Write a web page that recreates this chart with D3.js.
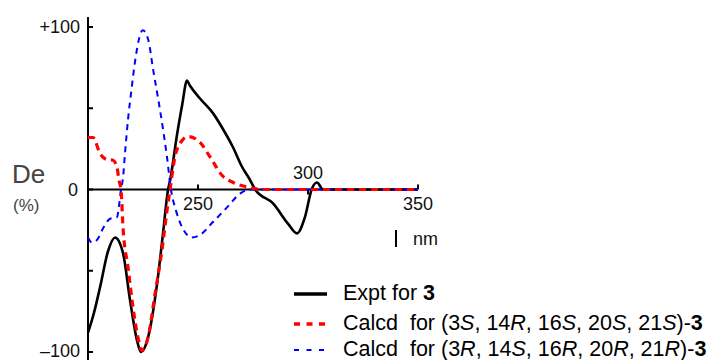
<!DOCTYPE html>
<html>
<head>
<meta charset="utf-8">
<script src="https://cdn.jsdelivr.net/npm/d3@7"></script>
<style>
  body { margin: 0; background: #fff; }
  svg { display: block; font-family: "Liberation Sans", Arial, sans-serif; }
</style>
</head>
<body>
<svg id="chart"></svg>
<script>
// ECD curves, wavelength (nm) vs delta epsilon (% of max)
var exptWl  = [200, 202.5, 205.5, 209.1, 212.3, 215.9, 219.1, 222.3, 224.1, 227.3, 231.4, 234.1, 236.4, 237.3, 240.5, 242.8, 245, 246.3, 250.9, 256.8, 261, 265.9, 270, 273.6, 276, 284.1, 290.9, 295, 298.6, 301.8, 304.1, 306.8, 320, 350];
var exptVal = [-88, -77, -60, -38, -29.5, -39, -68, -93, -100, -91, -58, -27, 0, 5.5, 34, 52, 67, 64, 56, 47, 38, 26, 14, 6, 0, -8.6, -21, -27, -17, 0.6, 4.3, 0, 0, 0];

var calcSWl  = [200, 202.3, 205.5, 208.6, 211.4, 213.2, 214.1, 215, 215.9, 218.2, 220.5, 222.7, 224.5, 227.3, 230.5, 233.6, 235.9, 237.3, 239.5, 242.7, 245.5, 250.9, 255.5, 261, 266, 273.6, 279, 350];
var calcSVal = [32, 32, 22, 18.5, 18, 13.5, 5.5, 0, -23, -48, -73, -91, -99, -91, -64, -37.5, -13, 0, 20, 30, 32.6, 29, 20, 8.6, 4.3, 1.2, 0, 0];

var calcRWl  = [200, 201.8, 204.1, 206.8, 210, 213.2, 214.1, 215, 215.9, 216.8, 218.3, 219.9, 221.4, 224.9, 227.4, 229.7, 232, 234, 235.9, 237.7, 240, 242.7, 247.3, 250.9, 256.8, 263.2, 269.1, 273.6, 350];
var calcRVal = [-29.5, -32.6, -31, -24, -18, -17, -10, 0, 7, 22, 44.5, 63, 79, 98, 92, 73, 55, 38, 20, 0, -13, -23, -29.5, -28, -20, -11, -2.5, 0, 0];

var yTicks = [-100, -50, 0, 50, 100];
var yLabels = ["\u2013100", "", "0", "", "+100"];
var xTicks = [250, 300, 350];

var width = 707, height = 360;
var svg = d3.select("#chart").attr("width", width).attr("height", height);

var x = d3.scaleLinear().domain([200, 350]).range([88, 418]);
var y = d3.scaleLinear().domain([-100, 100]).range([352, 27]);

function toPoints(wl, val) {
    var arr = [];
    for (let i = 0; i < wl.length; i++) {
        arr.push([wl[i], val[i]]);
    }
    return arr;
}

var line = d3.line()
    .x(function (d) { return x(d[0]) })
    .y(function (d) { return y(d[1]) })
    .curve(d3.curveMonotoneX);

// axes
svg.append("line")
    .attr("x1", x(200)).attr("x2", x(200))
    .attr("y1", 17).attr("y2", height)
    .attr("stroke", "#000").attr("stroke-width", 2);
svg.append("line")
    .attr("x1", x(200)).attr("x2", x(350))
    .attr("y1", y(0)).attr("y2", y(0))
    .attr("stroke", "#000").attr("stroke-width", 2);

svg.append("g").selectAll("line")
    .data(yTicks)
    .enter().append("line")
    .attr("x1", x(200)).attr("x2", x(200) + 5)
    .attr("y1", function (d) { return y(d) })
    .attr("y2", function (d) { return y(d) })
    .attr("stroke", "#000").attr("stroke-width", 2);

svg.append("g").selectAll("text")
    .data(yTicks)
    .enter().append("text")
    .attr("x", function (d) { return d === 0 ? 78 : 80 })
    .attr("y", function (d) { return d === -100 ? y(d) + 5 : y(d) + 6 })
    .attr("text-anchor", "end")
    .attr("font-size", 18)
    .attr("fill", "#111")
    .text(function (d, i) { return yLabels[i] });

// x ticks: 300 points down since its label sits above the axis
svg.append("g").selectAll("line")
    .data(xTicks)
    .enter().append("line")
    .attr("x1", function (d) { return x(d) })
    .attr("x2", function (d) { return x(d) })
    .attr("y1", y(0))
    .attr("y2", function (d) { return d === 300 ? y(0) + 5 : y(0) - 5 })
    .attr("stroke", "#000").attr("stroke-width", 2);

svg.append("g").selectAll("text")
    .data(xTicks)
    .enter().append("text")
    .attr("x", function (d) { return x(d) })
    .attr("y", function (d) { return d === 300 ? y(0) - 11 : y(0) + 20 })
    .attr("text-anchor", "middle")
    .attr("font-size", 18)
    .attr("fill", "#111")
    .text(function (d) { return d });

// axis titles
svg.append("text").attr("x", 12).attr("y", 183)
    .attr("font-size", 26).attr("fill", "#444").text("De");
svg.append("text").attr("x", 13).attr("y", 211)
    .attr("font-size", 17).attr("fill", "#444").text("(%)");
svg.append("line")
    .attr("x1", 396).attr("x2", 396).attr("y1", 230).attr("y2", 247)
    .attr("stroke", "#000").attr("stroke-width", 2);
svg.append("text").attr("x", 413).attr("y", 245)
    .attr("font-size", 18).attr("fill", "#111").text("nm");

// curves
var series = [
    { pts: toPoints(exptWl, exptVal), color: "#000", width: 2.6, dash: null },
    { pts: toPoints(calcRWl, calcRVal), color: "#0000ff", width: 2, dash: "6,5" },
    { pts: toPoints(calcSWl, calcSVal), color: "#ff0000", width: 3.2, dash: "7,5" }
];
svg.append("g").selectAll("path")
    .data(series)
    .enter().append("path")
    .attr("d", function (s) { return line(s.pts) })
    .attr("fill", "none")
    .attr("stroke", function (s) { return s.color })
    .attr("stroke-width", function (s) { return s.width })
    .attr("stroke-dasharray", function (s) { return s.dash });

// legend
var legend = [
    { y: 294, color: "#000", width: 3.4, dash: null,
      parts: [["Expt for ", ""], ["3", "b"]] },
    { y: 324, color: "#ff0000", width: 3.4, dash: "6,6.5",
      parts: [["Calcd\u00a0 for (3", ""], ["S", "i"], [", 14", ""], ["R", "i"], [", 16", ""], ["S", "i"], [", 20", ""], ["S", "i"], [", 21", ""], ["S", "i"], [")-", ""], ["3", "b"]] },
    { y: 350, color: "#0000ff", width: 2.2, dash: "5,7.5",
      parts: [["Calcd\u00a0 for (3", ""], ["R", "i"], [", 14", ""], ["S", "i"], [", 16", ""], ["R", "i"], [", 20", ""], ["R", "i"], [", 21", ""], ["R", "i"], [")-", ""], ["3", "b"]] }
];
legend.forEach(function (l) {
    svg.append("line")
        .attr("x1", 294).attr("x2", 327).attr("y1", l.y).attr("y2", l.y)
        .attr("stroke", l.color).attr("stroke-width", l.width)
        .attr("stroke-dasharray", l.dash);
    var t = svg.append("text").attr("x", 343).attr("y", l.y + 6)
        .attr("font-size", 21.5).attr("fill", "#000");
    l.parts.forEach(function (p) {
        t.append("tspan")
            .attr("font-style", p[1] === "i" ? "italic" : null)
            .attr("font-weight", p[1] === "b" ? "bold" : null)
            .text(p[0]);
    });
});
</script>
</body>
</html>
